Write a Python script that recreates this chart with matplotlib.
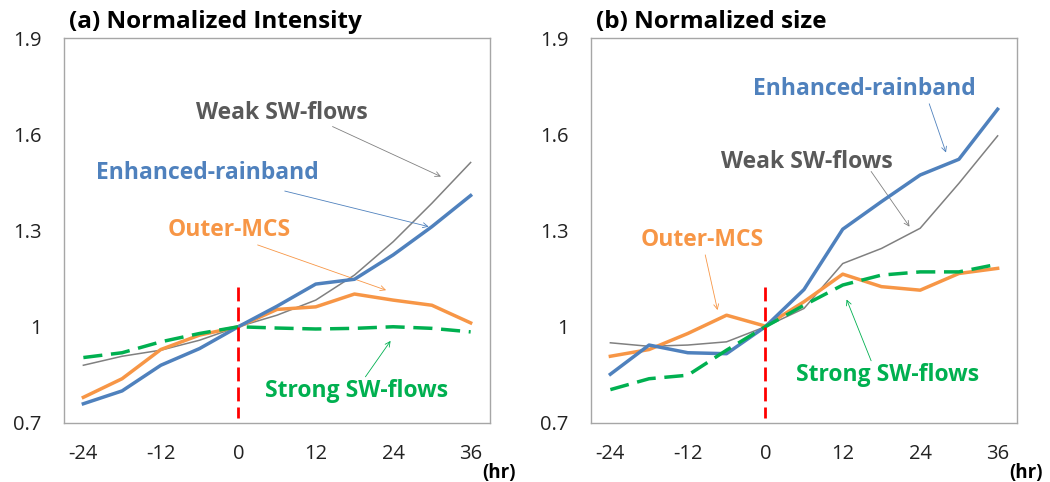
import numpy as np
import matplotlib.pyplot as plt

plt.rcParams['font.family'] = ['Open Sans', 'DejaVu Sans']
plt.rcParams['axes.unicode_minus'] = False

hours = [-24, -18, -12, -6, 0, 6, 12, 18, 24, 30, 36]
xticks = [-24, -12, 0, 12, 24, 36]
yticks = [0.7, 1.0, 1.3, 1.6, 1.9]
ytick_labels = ['0.7', '1', '1.3', '1.6', '1.9']

# (a) normalized intensity
a_enhanced = [0.76, 0.80, 0.88, 0.932, 1.0, 1.064, 1.133, 1.148, 1.224, 1.312, 1.409]
a_weak = [0.88, 0.908, 0.927, 0.958, 1.0, 1.036, 1.083, 1.161, 1.265, 1.385, 1.512]
a_outer = [0.78, 0.838, 0.929, 0.974, 1.0, 1.054, 1.062, 1.102, 1.083, 1.067, 1.012]
a_strong = [0.904, 0.919, 0.953, 0.979, 1.0, 0.996, 0.993, 0.995, 1.0, 0.995, 0.984]

# (b) normalized size
b_enhanced = [0.852, 0.943, 0.919, 0.916, 1.0, 1.116, 1.304, 1.39, 1.473, 1.522, 1.678]
b_weak = [0.95, 0.939, 0.943, 0.953, 1.0, 1.057, 1.197, 1.244, 1.307, 1.447, 1.595]
b_outer = [0.908, 0.929, 0.979, 1.036, 1.002, 1.078, 1.164, 1.125, 1.114, 1.166, 1.182]
b_strong = [0.804, 0.838, 0.849, 0.927, 1.0, 1.067, 1.13, 1.161, 1.171, 1.171, 1.195]

BLUE = '#4F81BD'
ORANGE = '#F79646'
GREEN = '#00B050'
GRAY = '#808080'
TXTGRAY = '#595959'

# label, text xy, arrow tail, arrow head, text colour, arrow colour
labels_a = [
    ('Weak SW-flows', (6.8, 1.666), (14.6, 1.624), (31.4, 1.468), TXTGRAY, GRAY),
    ('Enhanced-rainband', (-4.8, 1.478), (7.2, 1.423), (29.5, 1.312), BLUE, BLUE),
    ('Outer-MCS', (-1.4, 1.302), (3.0, 1.255), (22.9, 1.114), ORANGE, ORANGE),
    ('Strong SW-flows', (18.4, 0.80), (19.7, 0.844), (23.6, 0.956), GREEN, GREEN),
]
labels_b = [
    ('Enhanced-rainband', (15.3, 1.741), (25.4, 1.695), (28.0, 1.543), BLUE, BLUE),
    ('Weak SW-flows', (6.4, 1.512), (16.4, 1.484), (22.35, 1.312), TXTGRAY, GRAY),
    ('Outer-MCS', (-9.7, 1.270), (-9.3, 1.224), (-7.4, 1.052), ORANGE, ORANGE),
    ('Strong SW-flows', (19.0, 0.849), (16.4, 0.894), (12.6, 1.085), GREEN, GREEN),
]

fig = plt.figure(figsize=(10.5, 4.82), dpi=100)
ax1 = fig.add_axes([64 / 1050, 59 / 482, 426 / 1050, 385 / 482])
ax2 = fig.add_axes([591 / 1050, 59 / 482, 426 / 1050, 385 / 482])


def draw_panel(ax, title, enh, weak, outer, strong, labels):
    ax.plot(hours, weak, color=GRAY, lw=1.1, zorder=3)
    ax.plot(hours, outer, color=ORANGE, lw=2.5, zorder=3)
    ax.plot(hours, enh, color=BLUE, lw=2.5, zorder=4)
    ax.plot(hours, strong, color=GREEN, lw=2.5, dashes=(5.5, 2.5), zorder=5)
    ax.plot([0, 0], [1.123, 0.715], color='#FF0000', lw=2.0, dashes=(5, 2.2), zorder=6)

    for txt, xy, tail, head, tc, ac in labels:
        ax.text(xy[0], xy[1], txt, color=tc, fontsize=16.5, fontweight='bold',
                ha='center', va='center', zorder=7)
        ax.annotate('', xy=head, xytext=tail,
                    arrowprops=dict(arrowstyle='->', color=ac, lw=0.6,
                                    mutation_scale=9, shrinkA=0, shrinkB=0))

    ax.set_xlim(-27, 39)
    ax.set_ylim(0.7, 1.9)
    ax.set_xticks(xticks)
    ax.set_yticks(yticks)
    ax.set_yticklabels(ytick_labels)
    ax.tick_params(length=0, labelsize=14.5, colors='#222222')
    ax.tick_params(axis='x', pad=15)
    ax.tick_params(axis='y', pad=16)
    for s in ax.spines.values():
        s.set_color('#A6A6A6')
        s.set_linewidth(1.0)
    ax.text(0.012, 1.01, title, transform=ax.transAxes, fontsize=17.5,
            fontweight='bold', ha='left', va='bottom')
    ax.text(1.02, -0.13, '(hr)', transform=ax.transAxes, fontsize=13.5,
            fontweight='bold', ha='center', va='center')


draw_panel(ax1, '(a) Normalized Intensity', a_enhanced, a_weak, a_outer, a_strong, labels_a)
draw_panel(ax2, '(b) Normalized size', b_enhanced, b_weak, b_outer, b_strong, labels_b)

fig.savefig('out.png', dpi=100)
